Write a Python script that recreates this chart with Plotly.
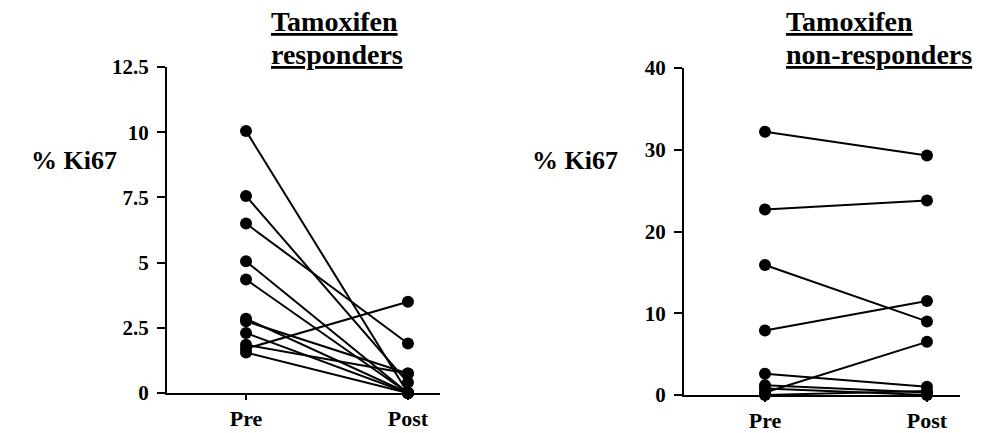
import plotly.graph_objects as go

# ---- data ----
timepoints = ["Pre", "Post"]
resp_pre = [10.05, 7.55, 6.5, 5.05, 4.35, 2.85, 2.75, 2.3, 1.85, 1.7, 1.55]
resp_post = [0.0, 0.4, 1.9, 0.0, 0.0, 0.0, 0.75, 0.0, 0.75, 3.5, 0.0]
resp_yticks = [0, 2.5, 5, 7.5, 10, 12.5]

nonresp_pre = [32.2, 22.7, 15.9, 7.9, 2.6, 1.2, 0.8, 0.3, 0.0, -0.2]
nonresp_post = [29.3, 23.8, 9.0, 11.5, 1.0, 0.3, 0.0, 6.5, 0.5, -0.2]
nonresp_yticks = [0, 10, 20, 30, 40]

W, H = 995, 433
FONT = "Liberation Serif"

fig = go.Figure()

def add_panel(pre, post, xa, ya):
    for a, b in zip(pre, post):
        fig.add_trace(go.Scatter(
            x=[0, 1], y=[a, b], mode="lines+markers",
            line=dict(color="black", width=2),
            marker=dict(color="black", size=12),
            cliponaxis=False, showlegend=False,
            xaxis=xa, yaxis=ya))

add_panel(resp_pre, resp_post, "x", "y")
add_panel(nonresp_pre, nonresp_post, "x2", "y2")

tickfont = dict(family=FONT, size=21, color="black", weight="bold")

def xaxis_cfg(x0, x1, r0, r1, yanchor):
    return dict(domain=[x0 / W, x1 / W], range=[r0, r1], anchor=yanchor,
                tickvals=[0, 1], ticktext=timepoints,
                tickfont=dict(tickfont, size=22),
                showline=True, linecolor="black", linewidth=2,
                ticks="outside", ticklen=5, tickwidth=2, tickcolor="black",
                showgrid=False, zeroline=False, fixedrange=True,
                automargin=False)

def yaxis_cfg(ytop, ybot, rmax, vals, xanchor):
    return dict(domain=[(H - ybot) / H, (H - ytop) / H], range=[0, rmax],
                anchor=xanchor, tickvals=vals,
                ticktext=[("%g" % v) for v in vals], tickfont=tickfont,
                showline=True, linecolor="black", linewidth=2,
                ticks="outside", ticklen=8, tickwidth=2, tickcolor="black",
                ticklabelstandoff=4,
                showgrid=False, zeroline=False, fixedrange=True,
                automargin=False)

fig.update_layout(
    template="none",
    width=W, height=H, margin=dict(l=0, r=0, t=0, b=0, pad=0),
    paper_bgcolor="white", plot_bgcolor="white",
    font=dict(family=FONT, color="black"),
    xaxis=xaxis_cfg(167, 440, -0.488, 1.198, "y"),
    yaxis=yaxis_cfg(67, 393, 12.5, resp_yticks, "x"),
    xaxis2=xaxis_cfg(684, 960, -0.5, 1.204, "y2"),
    yaxis2=yaxis_cfg(68, 395, 40, nonresp_yticks, "x2"),
)

title_font = dict(family=FONT, size=28, color="black", weight="bold")
titles = [(269, ["Tamoxifen", "responders"]),
          (784, ["Tamoxifen", "non-responders"])]
for x0, lines in titles:
    for yc, line in zip((22, 55), lines):
        fig.add_annotation(text="<u>%s</u>" % line,
                           x=x0 / W, y=1 - yc / H, xref="paper", yref="paper",
                           xanchor="left", yanchor="middle", align="left",
                           showarrow=False, font=title_font)

label_font = dict(family=FONT, size=26, color="black", weight="bold")
for cx in (74, 575):
    fig.add_annotation(text="% Ki67", x=cx / W, y=1 - 160 / H,
                       xref="paper", yref="paper", xanchor="center",
                       yanchor="middle", showarrow=False, font=label_font)

fig.write_html("out.html")
